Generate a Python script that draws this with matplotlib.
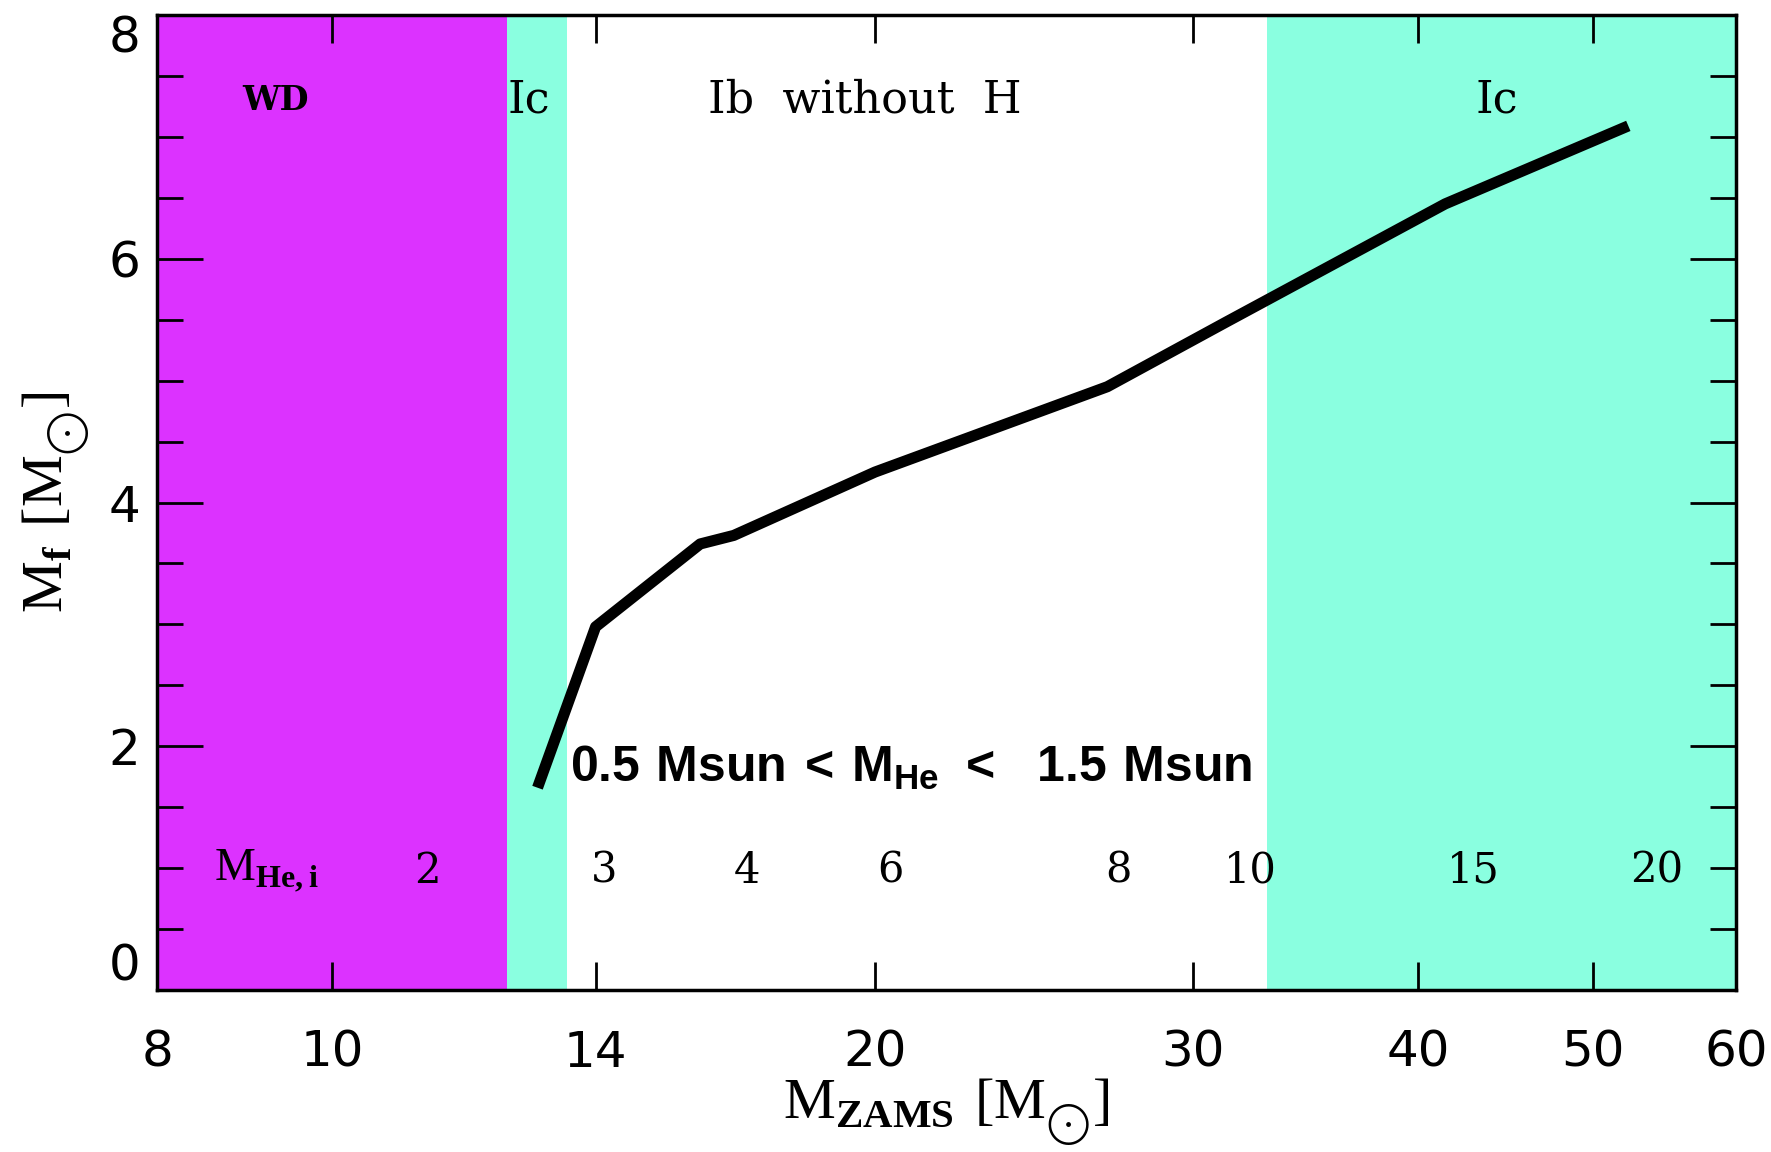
import matplotlib
matplotlib.use('Agg')
import matplotlib.pyplot as plt
from matplotlib.ticker import FixedLocator, NullFormatter, MultipleLocator

# final mass vs initial (ZAMS) mass
m_zams = [13.0, 14.0, 16.0, 16.7, 20.0, 26.9, 31.3, 41.4, 52.3]
m_final = [1.66, 2.98, 3.66, 3.73, 4.25, 4.95, 5.48, 6.45, 7.09]

# outcome regions along M_ZAMS
regions = [(8.0, 12.5, '#dc32ff'), (12.5, 13.5, '#8affe0'), (33.0, 60.0, '#8affe0')]
region_labels = ['WD', 'Ic', 'Ib  without  H', 'Ic']
region_label_x = [9.3, 12.86, 19.75, 44.2]

# initial He-core masses marked along the bottom
he_labels = ['2', '3', '4', '6', '8', '10', '15', '20']
he_pos = [11.3, 14.16, 16.98, 20.4, 27.3, 32.3, 42.9, 54.2]

x_ticks = [8, 10, 14, 20, 30, 40, 50, 60]

plt.rcParams['mathtext.fontset'] = 'custom'
plt.rcParams['mathtext.rm'] = 'Liberation Serif'
plt.rcParams['mathtext.bf'] = 'Liberation Sans:bold'
plt.rcParams['mathtext.sf'] = 'Liberation Serif:bold'

fig = plt.figure(figsize=(17.71, 11.52), dpi=100)
ax = fig.add_axes([0.0887, 0.1406, 0.8915, 0.8464])

for lo, hi, c in regions:
    ax.axvspan(lo, hi, color=c, lw=0, zorder=0)

ax.plot(m_zams, m_final, color='black', lw=8, solid_capstyle='butt', zorder=3)

ax.set_xscale('log')
ax.set_xlim(8, 60)
ax.set_ylim(0, 8)

ax.xaxis.set_major_locator(FixedLocator(x_ticks))
ax.xaxis.set_minor_locator(FixedLocator([]))
ax.xaxis.set_minor_formatter(NullFormatter())
ax.set_xticklabels([str(t) for t in x_ticks])
ax.yaxis.set_major_locator(MultipleLocator(2))
ax.yaxis.set_minor_locator(MultipleLocator(0.5))

ax.tick_params(axis='both', which='both', direction='in', top=True, right=True,
               width=2, color='black')
ax.tick_params(axis='x', which='major', length=20, pad=28, labelsize=36)
ax.tick_params(axis='y', which='major', length=33, pad=12, labelsize=36)
ax.tick_params(axis='y', which='minor', length=19)
for s in ax.spines.values():
    s.set_linewidth(2.5)
    s.set_zorder(5)

sun = r'[\mathrm{M}_{{}_{\bigodot}}]'
ax.set_xlabel(r'$\mathrm{M}_{\mathsf{ZAMS}}\ ' + sun + '$', fontsize=42, labelpad=0)
ax.set_ylabel(r'$\mathrm{M}_{\mathsf{f}}\ ' + sun + '$', fontsize=42, labelpad=12)

# region names
for lab, xp in zip(region_labels, region_label_x):
    if lab == 'WD':
        ax.text(xp, 7.3, lab, ha='center', va='center', fontsize=24,
                family='DejaVu Serif', weight='bold', zorder=4)
    else:
        ax.text(xp, 7.3, lab, ha='center', va='center', fontsize=32,
                family='DejaVu Serif', zorder=4)

# He core mass scale
ax.text(9.2, 0.98, r'$\mathrm{M}_{\mathsf{He,i}}$', ha='center', va='center',
        fontsize=33, zorder=4)
for lab, xp in zip(he_labels, he_pos):
    ax.text(xp, 0.98, lab, ha='center', va='center', fontsize=30,
            family='DejaVu Serif', zorder=4)

ax.text(13.55, 1.82, r'$\mathbf{0.5\ Msun\,{<}\,M_{He}\ {<}\ \ 1.5\ Msun}$',
        ha='left', va='center', fontsize=36, zorder=4)

# keep the end labels of the y axis inside the frame
fig.canvas.draw()
for t in ax.yaxis.get_major_ticks():
    if abs(t.get_loc() - 8) < 1e-6:
        t.label1.set_va('top')
    elif abs(t.get_loc()) < 1e-6:
        t.label1.set_va('bottom')

fig.savefig('out.png', dpi=100)
